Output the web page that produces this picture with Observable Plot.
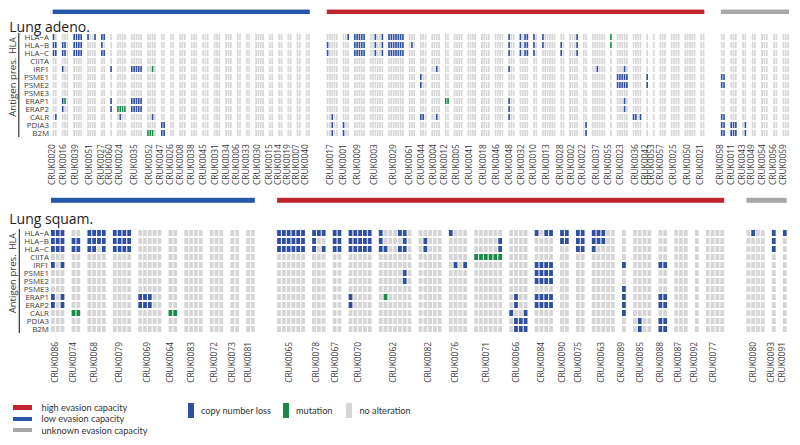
<!DOCTYPE html>
<html><head><meta charset="utf-8">
<script src="https://cdn.jsdelivr.net/npm/d3@7"></script>
<script src="https://cdn.jsdelivr.net/npm/@observablehq/plot@0.6"></script>
<style>
body{margin:0;background:#fff;font-family:Lato,"Open Sans",sans-serif;}
#wrap{position:relative;width:800px;height:445px;overflow:hidden;background:#fff;}
#top{position:absolute;left:0;top:0;}
#bottom{position:absolute;left:0;top:188px;}
#top svg,#bottom svg{display:block;}
.legcol{position:absolute;left:13px;top:402px;display:flex;flex-direction:column;}
.legcol .it{display:flex;align-items:center;height:11.3px;font-size:9.2px;color:#333;}
.legcol .sw{width:18.5px;height:4.5px;margin-right:10px;}
.legrow{position:absolute;left:188px;top:403px;display:flex;align-items:center;}
.legrow .it{display:flex;align-items:center;font-size:9.2px;color:#333;}
.legrow .sw{width:6px;height:14.5px;margin-right:7px;}
</style></head><body>
<div id="wrap"><div id="top"></div><div id="bottom"></div><div id="legend"></div></div>
<script>
// ---- categories ----
const genes = ["HLA-A","HLA-B","HLA-C","CIITA","IRF1","PSME1","PSME2","PSME3","ERAP1","ERAP2","CALR","PDIA3","B2M"];
const geneGroups = [
  {name:"HLA", first:"HLA-A", last:"HLA-C", anchor:"HLA-B"},
  {name:"Antigen pres.", first:"CIITA", last:"B2M", anchor:"CIITA"}
];
const evasionKeys = ["high","low","unknown"];
const evasionLabels = ["high evasion capacity","low evasion capacity","unknown evasion capacity"];
const evasionColors = ["#c1232f","#2557a6","#a7a7a9"];
const statusKeys = ["c","m","."];
const statusLabels = ["copy number loss","mutation","no alteration"];
const statusColors = ["#2f4fa2","#1a8a4a","#d5d5d5"];

// ---- patients: [id, number of regions, {gene: per-region status}] ----
const adenoLow = [
  ["CRUK0020",2,{"HLA-A":"c.","HLA-B":"cc","HLA-C":"cc","CALR":".c"}],
  ["CRUK0016",3,{"HLA-B":"cc.","HLA-C":"cc.","IRF1":"c..","ERAP1":"cm.","ERAP2":"c.."}],
  ["CRUK0039",4,{"HLA-A":"cccc","HLA-B":"cccc","HLA-C":"cccc"}],
  ["CRUK0051",4,{"HLA-A":"c..c"}],
  ["CRUK0027",2,{"HLA-A":"cc","HLA-B":"c.","HLA-C":"cc"}],
  ["CRUK0060",1,{"IRF1":"c","ERAP1":"c","ERAP2":"c"}],
  ["CRUK0024",4,{"ERAP2":"mmmm","CALR":".c.."}],
  ["CRUK0035",5,{"IRF1":"ccccc","ERAP1":"ccccc","ERAP2":"ccccc"}],
  ["CRUK0052",4,{"IRF1":"..m.","CALR":"..c.","B2M":"mmm."}],
  ["CRUK0047",2,{"PDIA3":"cc","B2M":"cc"}],
  ["CRUK0026",2,{}],["CRUK0008",3,{}],["CRUK0038",3,{}],["CRUK0045",3,{}],
  ["CRUK0031",3,{}],["CRUK0034",3,{}],["CRUK0006",2,{}],["CRUK0033",2,{}],
  ["CRUK0030",4,{}],["CRUK0015",2,{}],["CRUK0014",2,{}],["CRUK0019",2,{}],
  ["CRUK0007",2,{}],["CRUK0040",2,{}]
];
const adenoHigh = [
  ["CRUK0017",5,{"HLA-B":"c....","HLA-C":"c....","CALR":"..c..","PDIA3":"..c..","B2M":"..c.."}],
  ["CRUK0001",3,{"HLA-A":"..c","PDIA3":"c..","B2M":"c.."}],
  ["CRUK0009",5,{"HLA-A":"ccccc","HLA-B":"ccccc","HLA-C":"ccccc"}],
  ["CRUK0003",6,{"HLA-A":"..c..c","HLA-B":"..c..c","HLA-C":"..c..c"}],
  ["CRUK0029",7,{"HLA-A":"ccccccc","HLA-B":"ccccccc","HLA-C":"ccccccc"}],
  ["CRUK0061",3,{"HLA-B":".c."}],
  ["CRUK0044",3,{"PSME1":"c..","PSME2":"c..","CALR":"cc."}],
  ["CRUK0004",4,{"IRF1":"..c.","CALR":"..c."}],
  ["CRUK0012",2,{"ERAP1":"mm"}],
  ["CRUK0005",4,{}],["CRUK0041",4,{}],["CRUK0018",4,{}],["CRUK0046",4,{}],
  ["CRUK0048",3,{"HLA-A":"c..","HLA-B":"c..","HLA-C":"c..","IRF1":"c..","ERAP1":"c..","ERAP2":"c..","CALR":"c.."}],
  ["CRUK0032",4,{"HLA-A":"c.cc","HLA-B":"c.cc","HLA-C":"c.cc"}],
  ["CRUK0010",2,{"HLA-A":"c.","HLA-B":"c.","HLA-C":"c."}],
  ["CRUK0013",6,{"HLA-A":"c.....","HLA-B":"c....."}],
  ["CRUK0028",2,{"HLA-B":"c.","HLA-C":"c."}],
  ["CRUK0002",4,{"HLA-A":"...c","HLA-B":"...c","HLA-C":"...c"}],
  ["CRUK0022",2,{"PDIA3":".c","B2M":".c"}],
  ["CRUK0037",6,{"IRF1":"..c..."}],
  ["CRUK0055",1,{"HLA-A":"m","HLA-B":"m"}],
  ["CRUK0023",5,{"IRF1":"...c.","PSME1":"ccccc","PSME2":"ccccc","ERAP1":"...c.","ERAP2":"...c."}],
  ["CRUK0036",4,{"CALR":"cc.c"}],
  ["CRUK0042",1,{"PSME1":"c","PSME2":"c"}],
  ["CRUK0053",1,{}],["CRUK0057",3,{}],["CRUK0025",4,{}],["CRUK0050",5,{}],["CRUK0021",2,{}]
];
const adenoUnknown = [
  ["CRUK0058",2,{"PSME1":"cc","PSME2":"cc","CALR":"cc","PDIA3":"cc","B2M":"cc"}],
  ["CRUK0011",3,{"PDIA3":"ccc","B2M":"ccc"}],
  ["CRUK0043",2,{"PDIA3":".c","B2M":".c"}],
  ["CRUK0049",2,{}],["CRUK0054",3,{}],["CRUK0056",2,{}],["CRUK0059",3,{}]
];
const squamLow = [
  ["CRUK0086",3,{"HLA-A":"ccc","HLA-B":"ccc","HLA-C":"ccc","IRF1":"c.c","ERAP1":"c.c","ERAP2":"c.c"}],
  ["CRUK0074",2,{"HLA-B":"cc","HLA-C":"cc","CALR":"mm"}],
  ["CRUK0068",4,{"HLA-A":"cccc","HLA-B":"cccc","HLA-C":"cc.c"}],
  ["CRUK0079",4,{"HLA-A":"cccc","HLA-B":"cccc","HLA-C":"cccc"}],
  ["CRUK0069",5,{"ERAP1":"ccc..","ERAP2":"ccc.."}],
  ["CRUK0064",2,{"CALR":"mm"}],
  ["CRUK0083",4,{}],["CRUK0072",3,{}],["CRUK0073",2,{}],["CRUK0081",2,{}]
];
const squamHigh = [
  ["CRUK0065",6,{"HLA-A":"cccccc","HLA-B":"cccccc","HLA-C":"cccccc"}],
  ["CRUK0078",3,{"HLA-A":"ccc","HLA-B":"c..","HLA-C":"c.c"}],
  ["CRUK0067",2,{"HLA-A":"cc","HLA-B":"cc","HLA-C":"cc"}],
  ["CRUK0070",5,{"HLA-A":"ccccc","HLA-B":"ccccc","HLA-C":"ccccc","ERAP1":"c....","ERAP2":"c...."}],
  ["CRUK0062",7,{"HLA-A":"c...cc.","HLA-B":"c....c.","HLA-C":"cc..cc.","PSME1":".....c.","PSME2":".....c.","ERAP1":".m....."}],
  ["CRUK0082",5,{"HLA-B":".c...","HLA-C":".c..."}],
  ["CRUK0076",4,{"HLA-A":"c...","IRF1":".c.c"}],
  ["CRUK0071",6,{"HLA-B":".....c","HLA-C":".....c","CIITA":"mmmmmm"}],
  ["CRUK0066",4,{"ERAP1":".c..","ERAP2":".c..","CALR":"c..c","PDIA3":".ccc","B2M":".ccc"}],
  ["CRUK0084",4,{"HLA-A":"c.cc","IRF1":"cccc","PSME1":"cccc","PSME2":"cccc","ERAP1":"cccc","ERAP2":"cccc"}],
  ["CRUK0090",2,{"HLA-A":"cc","HLA-B":"cc"}],
  ["CRUK0075",2,{"HLA-A":"cc","HLA-B":"cc","HLA-C":"cc"}],
  ["CRUK0063",5,{"HLA-A":"ccc..","HLA-B":"ccc..","HLA-C":"c...."}],
  ["CRUK0089",1,{"IRF1":"c","PSME3":"c","ERAP1":"c","ERAP2":"c","CALR":"c"}],
  ["CRUK0085",4,{"PDIA3":".c..","B2M":".c.."}],
  ["CRUK0088",2,{"IRF1":"cc","ERAP1":"cc","ERAP2":"cc","PDIA3":"cc","B2M":"cc"}],
  ["CRUK0087",3,{}],["CRUK0092",1,{}],["CRUK0077",4,{}]
];
const squamUnknown = [
  ["CRUK0080",4,{"HLA-A":".c.."}],
  ["CRUK0093",1,{"HLA-A":"c","HLA-B":"c","HLA-C":"c"}],
  ["CRUK0091",1,{"HLA-A":"c"}]
];

const panels = [
  {el:"#top", title:"Lung adeno.", groups:[["low",adenoLow],["high",adenoHigh],["unknown",adenoUnknown]],
   cfg:{height:188,left:52.7,right:789.7,top:7.0,bottom:139.8,spacers:2,inset:0.7,patientGaps:[1.95,1.85,2.1],groupGaps:[7.0,6.8],
        barDy:-1.2,barInset:0.75,labelDy:3.8,geneDx:-4.2,bracketDx:-34.4,groupDx:-40.2,antigenDy:-3.8,titleDx:-43.9,titleDy:14.6}},
  {el:"#bottom", title:"Lung squam.", groups:[["low",squamLow],["high",squamHigh],["unknown",squamUnknown]],
   cfg:{height:197,left:51,right:787.7,top:6.7,bottom:148.1,spacers:3,inset:1,patientGaps:[1.3,1.3,1.3],groupGaps:[4.44,4.44],
        barDy:-0.7,barInset:0.5,labelDy:5.4,geneDx:-2.6,bracketDx:-32.2,groupDx:-38.5,antigenDy:-3.2,titleDx:-42.2,titleDy:19.0}}
];

const disp = g => g.replace("-", "\u2212");
const txt = "#3a3a3a";
const font = "'Open Sans', Lato, sans-serif";

for (const p of panels) {
  const cfg = p.cfg;
  const cells = [], labels = [], bars = [];
  let pos = 0;
  p.groups.forEach(([ev, pts], gi) => {
    if (gi > 0) pos += cfg.groupGaps[gi - 1];
    const gStart = pos;
    pts.forEach(([id, n, alt], pi) => {
      if (pi > 0) pos += cfg.patientGaps[gi];
      const start = pos;
      for (let r = 0; r < n; r++) {
        for (const gene of genes) {
          const code = (alt[gene] || "")[r] || ".";
          cells.push({gene, x1: pos, x2: pos + 1, status: code});
        }
        pos += 1;
      }
      labels.push({id, x: (start + pos) / 2});
    });
    bars.push({ev, x1: gStart, x2: pos, row: "bar"});
  });
  const total = pos;
  const spacers = d3.range(cfg.spacers).map(i => "sp" + i);
  const chart = Plot.plot({
    width: 800, height: cfg.height,
    marginLeft: cfg.left, marginRight: 800 - cfg.right,
    marginTop: cfg.top, marginBottom: cfg.height - cfg.bottom,
    x: {domain: [0, total], axis: null},
    y: {domain: ["bar", ...spacers, ...genes], padding: 0.27, axis: null},
    color: {domain: [...statusKeys, ...evasionKeys], range: [...statusColors, ...evasionColors]},
    style: {fontFamily: font, background: "white", color: txt, overflow: "visible"},
    marks: [
      Plot.barX(bars, {x1: "x1", x2: "x2", y: "row", fill: "ev", insetRight: cfg.inset,
        insetTop: cfg.barInset, insetBottom: cfg.barInset, dy: cfg.barDy}),
      Plot.barX(cells, {x1: "x1", x2: "x2", y: "gene", fill: "status", insetRight: cfg.inset}),
      Plot.text(genes, {y: d => d, text: disp, frameAnchor: "left", textAnchor: "end", dx: cfg.geneDx, fontSize: 7.9, fill: txt}),
      Plot.ruleX(geneGroups, {x: () => 0, y1: "first", y2: "last", dx: cfg.bracketDx, stroke: "#222", strokeWidth: 1.1, insetTop: -0.9, insetBottom: -0.9}),
      Plot.text(geneGroups.slice(0, 1), {y: "anchor", text: "name", frameAnchor: "left", dx: cfg.groupDx, rotate: -90, textAnchor: "middle", fontSize: 8.6, fill: txt}),
      Plot.text(geneGroups.slice(1), {y: "anchor", text: "name", frameAnchor: "left", dx: cfg.groupDx, dy: cfg.antigenDy, rotate: -90, textAnchor: "end", fontSize: 9.6, fill: txt}),
      Plot.text(labels, {x: "x", text: "id", frameAnchor: "bottom", rotate: -90, textAnchor: "end", dy: cfg.labelDy, dx: -cfg.inset / 2, fontSize: 8.4, fill: txt}),
      Plot.text([p.title], {frameAnchor: "top-left", textAnchor: "start", dx: cfg.titleDx, dy: cfg.titleDy, fontSize: 14, fill: "#222"})
    ]
  });
  document.querySelector(p.el).appendChild(chart);
}

// ---- legend ----
const leg = document.getElementById("legend");
const col = document.createElement("div"); col.className = "legcol";
evasionKeys.forEach((k, i) => {
  const it = document.createElement("div"); it.className = "it";
  it.innerHTML = `<span class="sw" style="background:${evasionColors[i]}"></span><span>${evasionLabels[i]}</span>`;
  col.appendChild(it);
});
leg.appendChild(col);
const row = document.createElement("div"); row.className = "legrow";
const itemWidths = [95, 63.4, 80];
statusKeys.forEach((k, i) => {
  const it = document.createElement("div"); it.className = "it"; it.style.width = itemWidths[i] + "px";
  it.innerHTML = `<span class="sw" style="background:${statusColors[i]}"></span><span>${statusLabels[i]}</span>`;
  row.appendChild(it);
});
leg.appendChild(row);
</script>
</body></html>
